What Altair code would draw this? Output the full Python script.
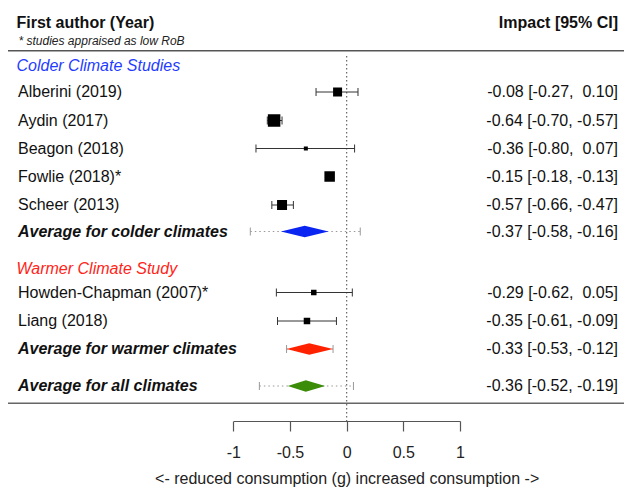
import altair as alt
import pandas as pd

FONT = "Liberation Sans"

# ---------------- data ----------------
study_labels = ["Alberini (2019)", "Aydin (2017)", "Beagon (2018)", "Fowlie (2018)*",
                "Scheer (2013)", "Howden-Chapman (2007)*", "Liang (2018)"]
study_est = [-0.08, -0.64, -0.36, -0.15, -0.57, -0.29, -0.35]
study_lo = [-0.27, -0.70, -0.80, -0.18, -0.66, -0.62, -0.61]
study_hi = [0.10, -0.57, 0.07, -0.13, -0.47, 0.05, -0.09]
study_weight = [9, 12.5, 4, 10.5, 10, 5.5, 6.5]   # marker side (relative weight)

summary_labels = ["Average for colder climates", "Average for warmer climates",
                  "Average for all climates"]
summary_est = [-0.37, -0.33, -0.36]
summary_lo = [-0.58, -0.53, -0.52]
summary_hi = [-0.16, -0.12, -0.19]
summary_pi_lo = [-0.85, -0.53, -0.77]
summary_pi_hi = [0.12, -0.12, 0.06]
summary_colors = ["#0a24f2", "#ff2200", "#3b8c08"]

group_labels = ["Colder Climate Studies", "Warmer Climate Study"]
group_colors = ["#1f3cff", "#ff2418"]

tick_values = [-1, -0.5, 0, 0.5, 1]
x_title = "<- reduced consumption (g) increased consumption ->"

# ---------------- layout ----------------
study_rows = [92, 120.5, 148.5, 176.5, 205, 292.5, 321]
summary_rows = [231.5, 349, 386]
group_rows = [66, 269]
CAP = 4
DIAMOND_HALF = 5.7


def fmt(e, l, h):
    s = f"{e:.2f} [{l:.2f}, {h:5.2f}]"
    return s.replace("  ", " \u00a0")


studies = pd.DataFrame({
    "label": study_labels, "est": study_est, "lo": study_lo, "hi": study_hi,
    "size": [w * w for w in study_weight], "row": study_rows,
})
studies["top"] = studies["row"] - CAP
studies["bot"] = studies["row"] + CAP
studies["txt"] = [fmt(e, l, h) for e, l, h in zip(study_est, study_lo, study_hi)]

study_caps = pd.concat([
    studies[["lo", "top", "bot"]].rename(columns={"lo": "x"}),
    studies[["hi", "top", "bot"]].rename(columns={"hi": "x"}),
])

summ = pd.DataFrame({
    "label": summary_labels, "est": summary_est, "lo": summary_lo, "hi": summary_hi,
    "pilo": summary_pi_lo, "pihi": summary_pi_hi, "color": summary_colors,
    "row": summary_rows,
})
summ["top"] = summ["row"] - CAP
summ["bot"] = summ["row"] + CAP
summ["txt"] = [fmt(e, l, h) for e, l, h in zip(summary_est, summary_lo, summary_hi)]

pi_caps = pd.concat([
    summ[["pilo", "top", "bot"]].rename(columns={"pilo": "x"}),
    summ[["pihi", "top", "bot"]].rename(columns={"pihi": "x"}),
])

diamond_rows = []
for lab, e, l, h, c, r in zip(summary_labels, summary_est, summary_lo, summary_hi,
                               summary_colors, summary_rows):
    diamond_rows.append({"label": lab, "x": l, "y1": r, "y2": r, "color": c})
    diamond_rows.append({"label": lab, "x": e, "y1": r - DIAMOND_HALF, "y2": r + DIAMOND_HALF, "color": c})
    diamond_rows.append({"label": lab, "x": h, "y1": r, "y2": r, "color": c})
diamonds = pd.DataFrame(diamond_rows)

groups = pd.DataFrame({"label": group_labels, "color": group_colors, "row": group_rows})

# ---------------- scales ----------------
xs = alt.Scale(domain=[-1, 1], range=[233.3, 460], nice=False, zero=False)
ys = alt.Scale(domain=[0, 489], range=[0, 489], nice=False, zero=False)
xaxis = alt.Axis(values=tick_values, title=x_title, orient="bottom", offset=-68,
                 grid=False, domainColor="#555", domainWidth=1.2, tickColor="#555",
                 tickWidth=1.2, tickSize=10, labelFont=FONT, labelFontSize=16,
                 labelColor="#222", labelPadding=13, labelFlush=False,
                 labelExpr="'' + datum.value",
                 titleFont=FONT, titleFontSize=16, titleFontWeight="normal",
                 titleColor="#222", titlePadding=10)


def X(field):
    return alt.X(field, scale=xs, axis=xaxis)


def Y(field):
    return alt.Y(field, scale=ys, axis=None)


zero_line = alt.Chart(pd.DataFrame({"x": [0]})).mark_rule(
    color="#666", strokeDash=[1.5, 2.5], strokeWidth=1.2
).encode(x=X("x:Q"), y=alt.value(56), y2=alt.value(421))

top_line = alt.Chart(pd.DataFrame({"a": [0]})).mark_rule(color="#555", strokeWidth=1.5).encode(
    x=alt.value(8), x2=alt.value(624), y=alt.value(50.7))
bottom_line = alt.Chart(pd.DataFrame({"a": [0]})).mark_rule(color="#666", strokeWidth=1.5).encode(
    x=alt.value(8), x2=alt.value(624), y=alt.value(403.3))

ci = alt.Chart(studies).mark_rule(color="#333", strokeWidth=1).encode(
    x=X("lo:Q"), x2="hi:Q", y=Y("row:Q"))
ci_caps = alt.Chart(study_caps).mark_rule(color="#333", strokeWidth=1).encode(
    x=X("x:Q"), y=Y("top:Q"), y2="bot:Q")
squares = alt.Chart(studies).mark_square(color="black", filled=True, opacity=1).encode(
    x=X("est:Q"), y=Y("row:Q"), size=alt.Size("size:Q", scale=None))

pi = alt.Chart(summ).mark_rule(color="#999", strokeDash=[1.5, 3], strokeWidth=1.2).encode(
    x=X("pilo:Q"), x2="pihi:Q", y=Y("row:Q"))
pi_cap = alt.Chart(pi_caps).mark_rule(color="#999", strokeWidth=1).encode(
    x=X("x:Q"), y=Y("top:Q"), y2="bot:Q")
diamond = alt.Chart(diamonds).mark_area(opacity=1, interpolate="linear").encode(
    x=X("x:Q"), y=Y("y1:Q"), y2="y2:Q",
    color=alt.Color("color:N", scale=None), detail="label:N")

study_text = alt.Chart(studies).mark_text(
    align="left", baseline="middle", font=FONT, fontSize=16, color="#111"
).encode(x=alt.value(18), y=Y("row:Q"), text="label:N")
summ_text = alt.Chart(summ).mark_text(
    align="left", baseline="middle", font=FONT, fontSize=16, fontWeight="bold",
    fontStyle="italic", color="#111"
).encode(x=alt.value(18), y=Y("row:Q"), text="label:N")
group_text = alt.Chart(groups).mark_text(
    align="left", baseline="middle", font=FONT, fontSize=16, fontStyle="italic"
).encode(x=alt.value(16.5), y=Y("row:Q"), text="label:N",
         color=alt.Color("color:N", scale=None))
val_text = alt.Chart(pd.concat([studies[["txt", "row"]], summ[["txt", "row"]]])).mark_text(
    align="right", baseline="middle", font=FONT, fontSize=16, color="#111"
).encode(x=alt.value(618), y=Y("row:Q"), text="txt:N")

hdr_left = alt.Chart(pd.DataFrame({"t": ["First author (Year)"]})).mark_text(
    align="left", baseline="middle", font=FONT, fontSize=16, fontWeight="bold", color="#111"
).encode(x=alt.value(16.5), y=alt.value(23), text="t:N")
hdr_note = alt.Chart(pd.DataFrame({"t": ["* studies appraised as low RoB"]})).mark_text(
    align="left", baseline="middle", font=FONT, fontSize=12, fontStyle="italic", color="#222"
).encode(x=alt.value(18.5), y=alt.value(41), text="t:N")
hdr_right = alt.Chart(pd.DataFrame({"t": ["Impact [95% CI]"]})).mark_text(
    align="right", baseline="middle", font=FONT, fontSize=16, fontWeight="bold", color="#111"
).encode(x=alt.value(618), y=alt.value(23), text="t:N")

chart = alt.layer(
    zero_line, top_line, bottom_line, pi, pi_cap, ci, ci_caps, squares, diamond,
    study_text, summ_text, group_text, val_text, hdr_left, hdr_note, hdr_right
).properties(
    width=624, height=489, autosize=alt.AutoSizeParams(type="none"), padding=0,
    background="white"
).configure_view(stroke=None)

chart.save("out.html", embed_options={"renderer": "svg", "actions": False})
